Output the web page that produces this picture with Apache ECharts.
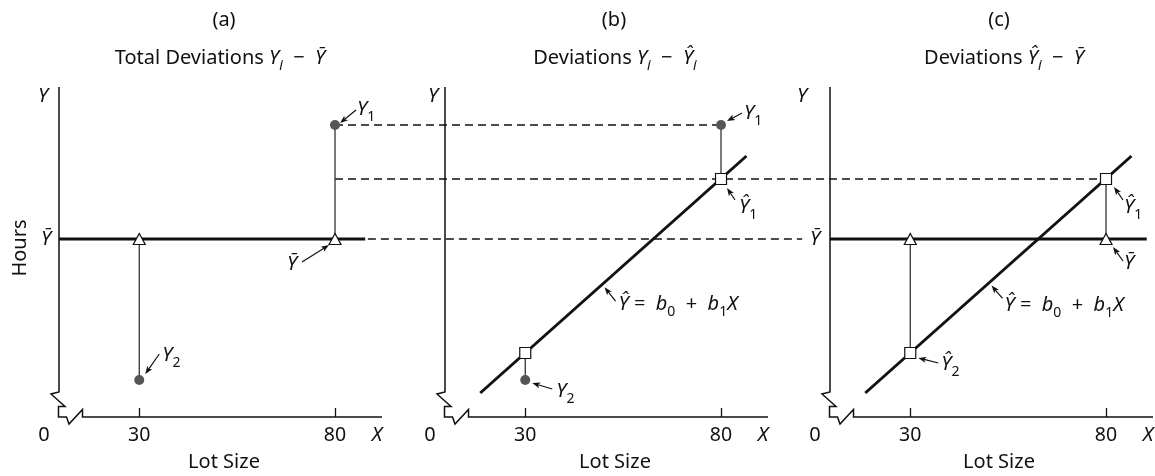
<!DOCTYPE html>
<html>
<head>
<meta charset="utf-8">
<script src="https://cdn.jsdelivr.net/npm/echarts@6/dist/echarts.min.js"></script>
<style>
html,body{margin:0;padding:0;background:#fff;}
#chart{width:1155px;height:476px;}
</style>
</head>
<body>
<div id="chart"></div>
<script>
// ---- values (y in arbitrary "hours" units) ----
var lotSize = [30, 80];          // X2, X1
var observed = [37, 292];        // Y2, Y1
var fitted = [64, 238];          // Ŷ2, Ŷ1
var meanHours = 178;             // Ȳ
var fitLineX = [18.5, 86.5];     // ends of the drawn regression line
var fitLineY = [24, 261];
var meanLineEnd = [87.7, 90.4];  // where the thick Ȳ line stops in (a) and (c)
var xTicks = [30, 80];
var xRange = [9.5, 92];
var yRange = [0, 330];
var panelLetters = ['(a)', '(b)', '(c)'];
var panelTitles = [
    '{r|Total Deviations }{i|Y}{si|i}{r|  −  }{i|Ȳ}',
    '{r|Deviations }{i|Y}{si|i}{r|  −  }{i|Ŷ}{si|i}',
    '{r|Deviations }{i|Ŷ}{si|i}{r|  −  }{i|Ȳ}'
];

var FONT = 'Noto Sans';
var INK = '#111';
var FS = 20;
var gridLeft = [59, 445, 830];

var chart = echarts.init(document.getElementById('chart'));

function seg(g, pts, w, color) {
    return {
        type: 'line', xAxisIndex: g, yAxisIndex: g, data: pts, symbol: 'none',
        lineStyle: {width: w, color: color}, z: 2, silent: true
    };
}
function marks(g, pts, kind) {
    var s = {type: 'scatter', xAxisIndex: g, yAxisIndex: g, data: pts, z: 4, silent: true};
    if (kind == 'dot') {
        s.symbol = 'circle'; s.symbolSize = 10;
        s.itemStyle = {color: '#555', opacity: 1};
    } else if (kind == 'tri') {
        s.symbol = 'triangle'; s.symbolSize = [12, 11];
        s.itemStyle = {color: '#fff', borderColor: INK, borderWidth: 1.2, opacity: 1};
    } else {
        s.symbol = 'rect'; s.symbolSize = 11;
        s.itemStyle = {color: '#fff', borderColor: INK, borderWidth: 1.2, opacity: 1};
    }
    return s;
}

var fitLine = [[fitLineX[0], fitLineY[0]], [fitLineX[1], fitLineY[1]]];
var series = [
    // (a)
    seg(0, [[xRange[0], meanHours], [meanLineEnd[0], meanHours]], 3, INK),
    seg(0, [[lotSize[1], observed[1]], [lotSize[1], meanHours]], 1.3, '#333'),
    seg(0, [[lotSize[0], meanHours], [lotSize[0], observed[0]]], 1.3, '#333'),
    marks(0, [[lotSize[0], meanHours], [lotSize[1], meanHours]], 'tri'),
    marks(0, [[lotSize[0], observed[0]], [lotSize[1], observed[1]]], 'dot'),
    // (b)
    seg(1, fitLine, 3, INK),
    seg(1, [[lotSize[1], observed[1]], [lotSize[1], fitted[1]]], 1.3, '#333'),
    seg(1, [[lotSize[0], fitted[0]], [lotSize[0], observed[0]]], 1.3, '#333'),
    marks(1, [[lotSize[0], fitted[0]], [lotSize[1], fitted[1]]], 'sq'),
    marks(1, [[lotSize[0], observed[0]], [lotSize[1], observed[1]]], 'dot'),
    // (c)
    seg(2, [[xRange[0], meanHours], [meanLineEnd[1], meanHours]], 3, INK),
    seg(2, fitLine, 3, INK),
    seg(2, [[lotSize[0], meanHours], [lotSize[0], fitted[0]]], 1.3, '#333'),
    seg(2, [[lotSize[1], fitted[1]], [lotSize[1], meanHours]], 1.3, '#333'),
    marks(2, [[lotSize[0], meanHours], [lotSize[1], meanHours]], 'tri'),
    marks(2, [[lotSize[0], fitted[0]], [lotSize[1], fitted[1]]], 'sq')
];

var grids = [], xAxes = [], yAxes = [];
for (var g = 0; g < 3; g++) {
    grids.push({left: gridLeft[g], top: 87, width: 323, height: 330});
    xAxes.push({
        type: 'value', gridIndex: g, min: xRange[0], max: xRange[1],
        axisLine: {show: false}, splitLine: {show: false},
        axisTick: {show: true, inside: true, length: 9, customValues: xTicks,
            lineStyle: {color: INK, width: 1.3}},
        axisLabel: {show: true, customValues: xTicks, margin: 8,
            fontFamily: FONT, fontSize: 19.5, color: INK}
    });
    yAxes.push({type: 'value', gridIndex: g, min: yRange[0], max: yRange[1], show: false});
}

chart.setOption({
    animation: false,
    grid: grids, xAxis: xAxes, yAxis: yAxes,
    series: series
});

// ---- overlay: broken axes, dashed guides, labels ----
function px(g, x, y) { return chart.convertToPixel({gridIndex: g}, [x, y]); }

var rich = {
    r: {fontSize: FS, fontFamily: FONT, fill: INK, lineHeight: 30},
    i: {fontSize: FS, fontFamily: FONT, fontStyle: 'italic', fill: INK, lineHeight: 30},
    s: {fontSize: 14, fontFamily: FONT, fill: INK, verticalAlign: 'bottom', lineHeight: 15},
    si: {fontSize: 14, fontFamily: FONT, fontStyle: 'italic', fill: INK, verticalAlign: 'bottom', lineHeight: 15}
};

function txt(x, y, text, align, rot) {
    var el = {
        type: 'text', z: 10, silent: true,
        style: {x: x, y: y, text: text, rich: rich, fill: INK,
            fontFamily: FONT, fontSize: FS,
            align: align || 'center', verticalAlign: 'middle'}
    };
    if (rot) {
        el.x = x; el.y = y; el.rotation = rot;
        el.style.x = 0; el.style.y = 0;
    }
    return el;
}

function arrow(x1, y1, x2, y2) {
    var dx = x2 - x1, dy = y2 - y1, L = Math.sqrt(dx * dx + dy * dy);
    var ux = dx / L, uy = dy / L, hl = 8, hw = 3;
    var bx = x2 - ux * hl, by = y2 - uy * hl;
    return {
        type: 'group', z: 10, silent: true, children: [
            {type: 'line', shape: {x1: x1, y1: y1, x2: bx + ux * 2, y2: by + uy * 2}, style: {stroke: INK, lineWidth: 1.2}},
            {type: 'polygon', shape: {points: [[x2, y2], [bx - uy * hw, by + ux * hw], [bx + ux * 2, by + uy * 2], [bx + uy * hw, by - ux * hw]]},
                style: {fill: INK}}
        ]
    };
}

function dashed(p, q) {
    return {type: 'line', z: 1, silent: true, shape: {x1: p[0], y1: p[1], x2: q[0], y2: q[1]},
        style: {stroke: INK, lineWidth: 1.4, lineDash: [8, 5]}};
}

function fitAt(x) {
    return fitLineY[0] + (x - fitLineX[0]) * (fitLineY[1] - fitLineY[0]) / (fitLineX[1] - fitLineX[0]);
}

var regText = '{i|Ŷ}{r| =  }{i|b}{s|0}{r|  +  }{i|b}{s|1}{i|X}';
var notes = [
    {g: 0, at: [lotSize[1], observed[1]], text: '{i|Y}{s|1}', dx: 22, dy: -16, head: [5, -2], tail: [21, -15]},
    {g: 0, at: [lotSize[1], meanHours], text: '{i|Ȳ}', dx: -48, dy: 25, head: [-6, 6], tail: [-33, 23]},
    {g: 0, at: [lotSize[0], observed[0]], text: '{i|Y}{s|2}', dx: 23, dy: -25, head: [6, -6], tail: [20, -26]},
    {g: 1, at: [lotSize[1], observed[1]], text: '{i|Y}{s|1}', dx: 23, dy: -12, head: [6, -4], tail: [21, -12]},
    {g: 1, at: [lotSize[1], fitted[1]], text: '{i|Ŷ}{s|1}', dx: 18, dy: 28, head: [6, 9], tail: [14, 21]},
    {g: 1, at: [50, fitAt(50)], text: regText, dx: 15, dy: 21, head: [1, 4], tail: [12, 18]},
    {g: 1, at: [lotSize[0], observed[0]], text: '{i|Y}{s|2}', dx: 31, dy: 11, head: [7, 3], tail: [27, 9]},
    {g: 2, at: [lotSize[1], fitted[1]], text: '{i|Ŷ}{s|1}', dx: 18, dy: 28, head: [8, 8], tail: [17, 21]},
    {g: 2, at: [lotSize[1], meanHours], text: '{i|Ȳ}', dx: 18, dy: 24, head: [7, 8], tail: [17, 22]},
    {g: 2, at: [50.5, fitAt(50.5)], text: regText, dx: 14, dy: 24, head: [1, 4], tail: [12, 17]},
    {g: 2, at: [lotSize[0], fitted[0]], text: '{i|Ŷ}{s|2}', dx: 31, dy: 11, head: [8, 5], tail: [28, 10]}
];

var yLabelDx = [-16, -12, -28];
var letterX = [224, 614, 999];
var titleX = [220, 615, 1004];
var lotX = [224, 615, 999];

var gfx = [];
for (var g = 0; g < 3; g++) {
    var o = px(g, xRange[0], yRange[0]);
    var ox = o[0], oy = o[1];
    var ty = px(g, xRange[0], yRange[1])[1];
    var rx = px(g, xRange[1], yRange[0])[0];
    gfx.push({
        type: 'polyline', z: 5, silent: true,
        shape: {points: [[ox, ty], [ox, oy - 25], [ox - 8, oy - 23], [ox + 6, oy - 10.5], [ox - 0.5, oy - 10.5],
            [ox - 0.5, oy], [ox + 7.5, oy], [ox + 10, oy + 7], [ox + 23.5, oy - 7.5], [ox + 23.5, oy], [rx, oy]]},
        style: {stroke: INK, lineWidth: 1.5, fill: 'none'}
    });
    gfx.push(txt(ox - 15, oy + 18, '0'));
    gfx.push(txt(ox + 318, oy + 18, '{i|X}'));
    gfx.push(txt(ox + yLabelDx[g], ty + 9, '{i|Y}'));
    gfx.push(txt(letterX[g], 20, panelLetters[g]));
    gfx.push(txt(titleX[g], 58, panelTitles[g]));
    gfx.push(txt(lotX[g], 462, 'Lot Size'));
}
// Ȳ marks on the vertical axes of (a) and (c)
gfx.push(txt(px(0, xRange[0], meanHours)[0] - 13, px(0, xRange[0], meanHours)[1], '{i|Ȳ}'));
gfx.push(txt(px(2, xRange[0], meanHours)[0] - 15, px(2, xRange[0], meanHours)[1], '{i|Ȳ}'));
gfx.push(txt(20, 248, 'Hours', 'center', Math.PI / 2));

// dashed guides running across panels
gfx.push(dashed(px(0, lotSize[1], observed[1]), px(1, lotSize[1], observed[1])));
gfx.push(dashed(px(0, lotSize[1], fitted[1]), px(2, lotSize[1], fitted[1])));
gfx.push(dashed(px(0, 88.4, meanHours), px(2, 2.4, meanHours)));

notes.forEach(function (n) {
    var p = px(n.g, n.at[0], n.at[1]);
    gfx.push(arrow(p[0] + n.tail[0], p[1] + n.tail[1], p[0] + n.head[0], p[1] + n.head[1]));
    gfx.push(txt(p[0] + n.dx, p[1] + n.dy, n.text, 'left'));
});

chart.setOption({graphic: gfx});
</script>
</body>
</html>
